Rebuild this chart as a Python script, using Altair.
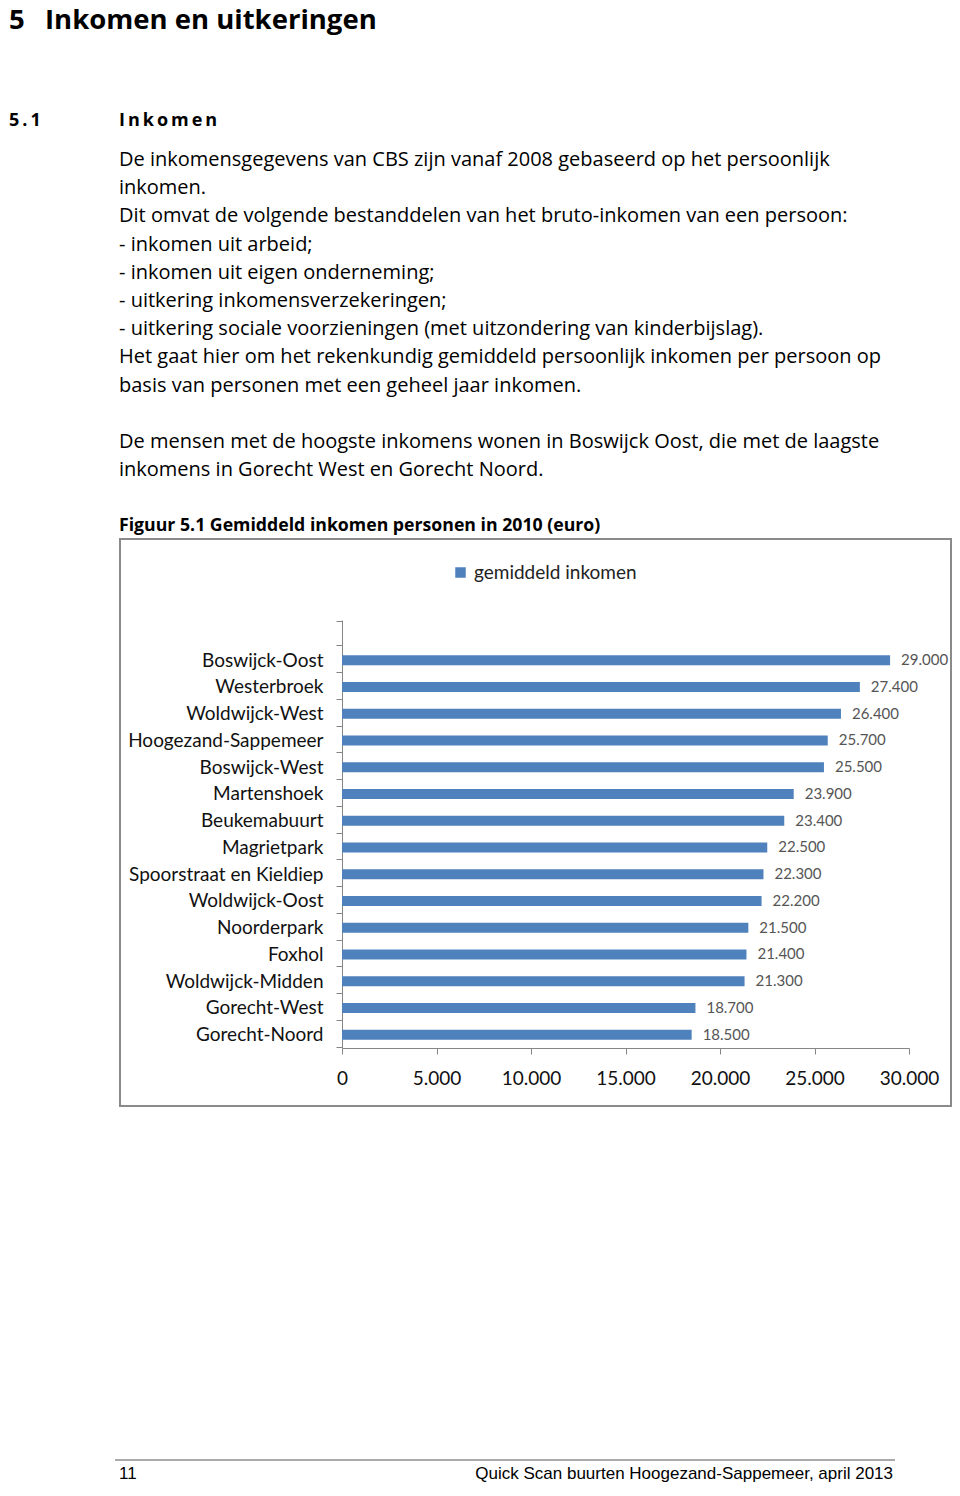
import altair as alt
import pandas as pd

# ---------------- data ----------------
categories = ["Boswijck-Oost", "Westerbroek", "Woldwijck-West", "Hoogezand-Sappemeer",
              "Boswijck-West", "Martenshoek", "Beukemabuurt", "Magrietpark",
              "Spoorstraat en Kieldiep", "Woldwijck-Oost", "Noorderpark", "Foxhol",
              "Woldwijck-Midden", "Gorecht-West", "Gorecht-Noord"]
values = [29000, 27400, 26400, 25700, 25500, 23900, 23400, 22500, 22300, 22200,
          21500, 21400, 21300, 18700, 18500]
series_name = "gemiddeld inkomen"
x_ticks = [0, 5000, 10000, 15000, 20000, 25000, 30000]

heading_num = "5"
heading_text = "Inkomen en uitkeringen"
section_num = "5\u2009.\u20091"
section_text = "\u2009".join("Inkomen")
para1 = ["De inkomensgegevens van CBS zijn vanaf 2008 gebaseerd op het persoonlijk",
         "inkomen.",
         "Dit omvat de volgende bestanddelen van het bruto-inkomen van een persoon:",
         "- inkomen uit arbeid;",
         "- inkomen uit eigen onderneming;",
         "- uitkering inkomensverzekeringen;",
         "- uitkering sociale voorzieningen (met uitzondering van kinderbijslag).",
         "Het gaat hier om het rekenkundig gemiddeld persoonlijk inkomen per persoon op",
         "basis van personen met een geheel jaar inkomen."]
para2 = ["De mensen met de hoogste inkomens wonen in Boswijck Oost, die met de laagste",
         "inkomens in Gorecht West en Gorecht Noord."]
caption = "Figuur 5.1 Gemiddeld inkomen personen in 2010 (euro)"
footer_left = "11"
footer_right = "Quick Scan buurten Hoogezand-Sappemeer, april 2013"

# ---------------- layout ----------------
OX, OY = 342, 620          # page position of plot origin
W, H = 567, 428
TOTAL_W, TOTAL_H = 944, 1475


def px(x):
    return alt.value(x - OX)


def py(y):
    return alt.value(y - OY)


BODY_FONT = "Open Sans"
CHART_FONT = "Lato"
BLUE = "#4F81BD"

df = pd.DataFrame({"wijk": categories, "inkomen": values, "serie": series_name})
y_domain = ["\u00a0"] + categories

base = alt.Chart(df)

bars = base.mark_bar(size=10).encode(
    y=alt.Y("wijk:N", scale=alt.Scale(domain=y_domain),
            axis=alt.Axis(title=None, tickBand="extent", domainColor="#868686",
                          tickColor="#868686", tickSize=6, labelPadding=13,
                          labelFont=CHART_FONT, labelFontSize=19, labelColor="#111111",
                          labelLimit=300)),
    x=alt.X("inkomen:Q", scale=alt.Scale(domain=[0, 30000], nice=False),
            axis=alt.Axis(title=None, values=x_ticks, grid=False, domainColor="#868686",
                          tickColor="#868686", tickSize=6, labelPadding=15,
                          labelFlush=False, labelOverlap=False,
                          labelFont=CHART_FONT, labelFontSize=19, labelColor="#111111",
                          labelExpr="replace(format(datum.value, ','), ',', '.')")),
    color=alt.Color("serie:N", scale=alt.Scale(range=[BLUE]),
                    legend=alt.Legend(title=None, orient="none", legendX=451 - OX,
                                      legendY=563 - OY, symbolType="square",
                                      symbolSize=110, symbolStrokeWidth=0,
                                      labelFont=CHART_FONT, labelFontSize=19,
                                      labelLimit=400,
                                      labelColor="#222222", labelOffset=4, padding=0)),
)

labels = base.transform_calculate(
    lbl="replace(format(datum.inkomen, ','), ',', '.')"
).mark_text(align="left", baseline="middle", dx=11, font=CHART_FONT, fontSize=15,
            color="#555555").encode(
    y=alt.Y("wijk:N", scale=alt.Scale(domain=y_domain)),
    x=alt.X("inkomen:Q"),
    text="lbl:N",
)

one = pd.DataFrame({"k": [0]})

frame = alt.Chart(one).mark_rect(fill=None, stroke="#8a8a8a", strokeWidth=2).encode(
    x=px(120), x2=px(951), y=py(539), y2=py(1106))


def text_layer(t, x, y, size, weight="normal", font=BODY_FONT, align="left",
               color="#000000", multi=False):
    kw = dict(lineBreak="\n", lineHeight=28.2) if multi else {}
    return alt.Chart(pd.DataFrame({"t": [t]})).mark_text(
        align=align, baseline="alphabetic", font=font, fontSize=size, fontWeight=weight,
        color=color, **kw).encode(x=px(x), y=py(y), text="t:N")


h1a = text_layer(heading_num, 9, 29, 27.5, "bold")
h1b = text_layer(heading_text, 45, 29, 27.5, "bold")
h2a = text_layer(section_num, 9, 126, 18, "bold")
h2b = text_layer(section_text, 119, 126, 18, "bold")
p1 = text_layer("\n".join(para1), 119, 166, 20, multi=True)
p2 = text_layer("\n".join(para2), 119, 448, 20, multi=True)
cap = text_layer(caption, 119, 531, 17.7, "bold")
f1 = text_layer(footer_left, 119, 1479, 17, font="Liberation Sans")
f2 = text_layer(footer_right, 893, 1479, 17, font="Liberation Sans", align="right")

footer_rule = alt.Chart(one).mark_rule(color="#555555", strokeWidth=1).encode(
    x=px(115), x2=px(895), y=py(1460))

chart = alt.layer(frame, bars, labels, h1a, h1b, h2a, h2b, p1, p2, cap, f1, f2,
                  footer_rule).properties(
    width=W, height=H,
    autosize=alt.AutoSizeParams(type="none"),
    padding={"left": OX - 8, "top": OY - 8, "right": TOTAL_W - (OX - 8) - W,
             "bottom": TOTAL_H - (OY - 8) - H},
    background="white",
).configure_view(stroke=None)

chart.save("out.html", embed_options={"renderer": "svg", "actions": False})
